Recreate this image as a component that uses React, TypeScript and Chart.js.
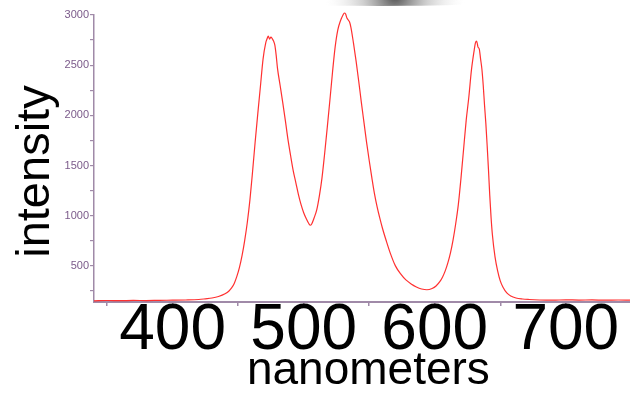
import React, { useEffect, useRef } from "react";
import { Chart, registerables } from "chart.js";

Chart.register(...registerables);

// Emission spectrum
const wavelengthNm = [
  340, 350, 360, 370, 380, 390, 400, 410, 420, 425, 430, 435, 440, 443, 445,
  447, 449, 451, 453, 455, 457, 459, 461, 463, 465, 467, 469, 471, 472, 473,
  474, 475, 476, 477, 478, 479, 480, 482, 484, 486, 488, 490, 492, 494, 496,
  498, 500, 502, 504, 505, 506, 508, 510, 512, 514, 516, 518, 520, 522, 524,
  526, 528, 530, 531, 532, 533, 534, 535, 536, 538, 540, 542, 544, 546, 548,
  550, 552, 554, 556, 558, 560, 563, 566, 570, 574, 578, 582, 586, 590, 594,
  598, 601, 604, 606, 608, 610, 612, 614, 616, 618, 620, 622, 624, 626, 628,
  630, 631, 632, 633, 634, 635, 636, 637, 638, 639, 640, 641, 642, 643, 644,
  646, 648, 650, 652, 655, 658, 662, 667, 672, 680, 690, 700, 710, 720, 730,
  740, 749,
];

const intensity = [
  152, 155, 153, 156, 154, 157, 158, 160, 165, 172, 180, 195, 222, 250, 280,
  325, 395, 485, 605, 755, 935, 1160, 1440, 1740, 2020, 2290, 2560, 2720, 2760, 2790,
  2760, 2780, 2765, 2740, 2700, 2600, 2470, 2300, 2130, 1950, 1760, 1600, 1450, 1330, 1210,
  1110, 1030, 970, 920, 905, 915, 980, 1060, 1200, 1380, 1620, 1880, 2150, 2430, 2680,
  2850, 2940, 3000, 3020, 3010, 2970, 2950, 2930, 2880, 2720, 2540, 2340, 2130, 1930, 1730,
  1550, 1380, 1220, 1090, 980, 880, 750, 630, 500, 420, 360, 320, 290, 270, 262,
  275, 300, 345, 390, 450, 530, 630, 760, 920, 1110, 1370, 1660, 1950, 2180, 2450,
  2640, 2720, 2740, 2680, 2660, 2560, 2460, 2300, 2100, 1920, 1700, 1460, 1200, 980, 810,
  590, 450, 350, 290, 230, 200, 180, 170, 165, 160, 158, 162, 159, 161, 158,
  160, 159,
];

const xLabeledTicks = [400, 500, 600, 700];
const yLabeledTicks = [500, 1000, 1500, 2000, 2500, 3000];

const xTitle = "nanometers";
const yTitle = "intensity";

const axisColor = "#a08aa8";
const tickLabelColor = "#7b5a8a";

// faint grey shape cut off at the top edge of the reference picture
const topShadePlugin = {
  id: "topShade",
  beforeDraw(chart: any) {
    const ctx = chart.ctx;
    ctx.save();
    const g = ctx.createRadialGradient(395, -4, 2, 395, -4, 70);
    g.addColorStop(0, "rgba(60,60,60,0.85)");
    g.addColorStop(0.45, "rgba(150,150,150,0.45)");
    g.addColorStop(1, "rgba(235,235,235,0)");
    ctx.fillStyle = g;
    ctx.beginPath();
    ctx.ellipse(380, -2, 140, 8, 0, 0, Math.PI * 2);
    ctx.fill();
    ctx.restore();
  },
};

export default function App() {
  const canvasRef = useRef<HTMLCanvasElement | null>(null);

  useEffect(() => {
    if (!canvasRef.current) return;
    const points = wavelengthNm.map((x, i) => ({ x, y: intensity[i] }));
    const chart = new Chart(canvasRef.current, {
      type: "line",
      data: {
        datasets: [
          {
            data: points,
            borderColor: "rgba(255, 25, 25, 0.9)",
            borderWidth: 1.2,
            pointRadius: 0,
            fill: false,
            cubicInterpolationMode: "monotone",
            clip: 6,
          },
        ],
      },
      plugins: [topShadePlugin],
      options: {
        animation: false,
        responsive: false,
        devicePixelRatio: 1,
        layout: { padding: { top: 15, right: 0, bottom: 0, left: 0 } },
        plugins: {
          legend: { display: false },
          tooltip: { enabled: false },
        },
        scales: {
          x: {
            type: "linear",
            min: 340,
            max: 749,
            afterFit: (scale: any) => {
              scale.height = 94;
            },
            border: { display: true, color: axisColor, width: 2 },
            grid: {
              display: true,
              drawOnChartArea: false,
              drawTicks: true,
              tickLength: 4,
              color: axisColor,
              lineWidth: 1.5,
            },
            ticks: {
              stepSize: 50,
              includeBounds: false,
              autoSkip: false,
              maxRotation: 0,
              minRotation: 0,
              padding: 1,
              color: "#000000",
              font: { family: "'Liberation Sans', Arial, sans-serif", size: 64, lineHeight: 0.75 },
              callback: (value: any) => (xLabeledTicks.includes(Number(value)) ? String(value) : ""),
            },
            title: {
              display: true,
              text: " " + xTitle,
              color: "#000000",
              padding: 0,
              font: { family: "'Liberation Sans', Arial, sans-serif", size: 46, lineHeight: 1.06 },
            },
          },
          y: {
            type: "linear",
            min: 140,
            max: 3000,
            afterFit: (scale: any) => {
              scale.width = 94;
            },
            border: { display: true, color: axisColor, width: 1.5 },
            grid: {
              display: true,
              drawOnChartArea: false,
              drawTicks: true,
              tickLength: 4,
              color: axisColor,
              lineWidth: 1.2,
            },
            ticks: {
              stepSize: 250,
              includeBounds: false,
              autoSkip: false,
              padding: 1,
              color: tickLabelColor,
              font: { family: "'Liberation Sans', Arial, sans-serif", size: 11 },
              callback: (value: any) => (yLabeledTicks.includes(Number(value)) ? String(value) : ""),
            },
            title: {
              display: true,
              text: yTitle + "  ",
              color: "#000000",
              padding: { top: 8, bottom: 0 },
              font: { family: "'Liberation Sans', Arial, sans-serif", size: 47, lineHeight: 1.2 },
            },
          },
        },
      },
    });
    return () => chart.destroy();
  }, []);

  return (
    <div style={{ position: "absolute", left: 0, top: 0, width: 630, height: 396, background: "#ffffff" }}>
      <canvas ref={canvasRef} width={630} height={396} />
    </div>
  );
}
